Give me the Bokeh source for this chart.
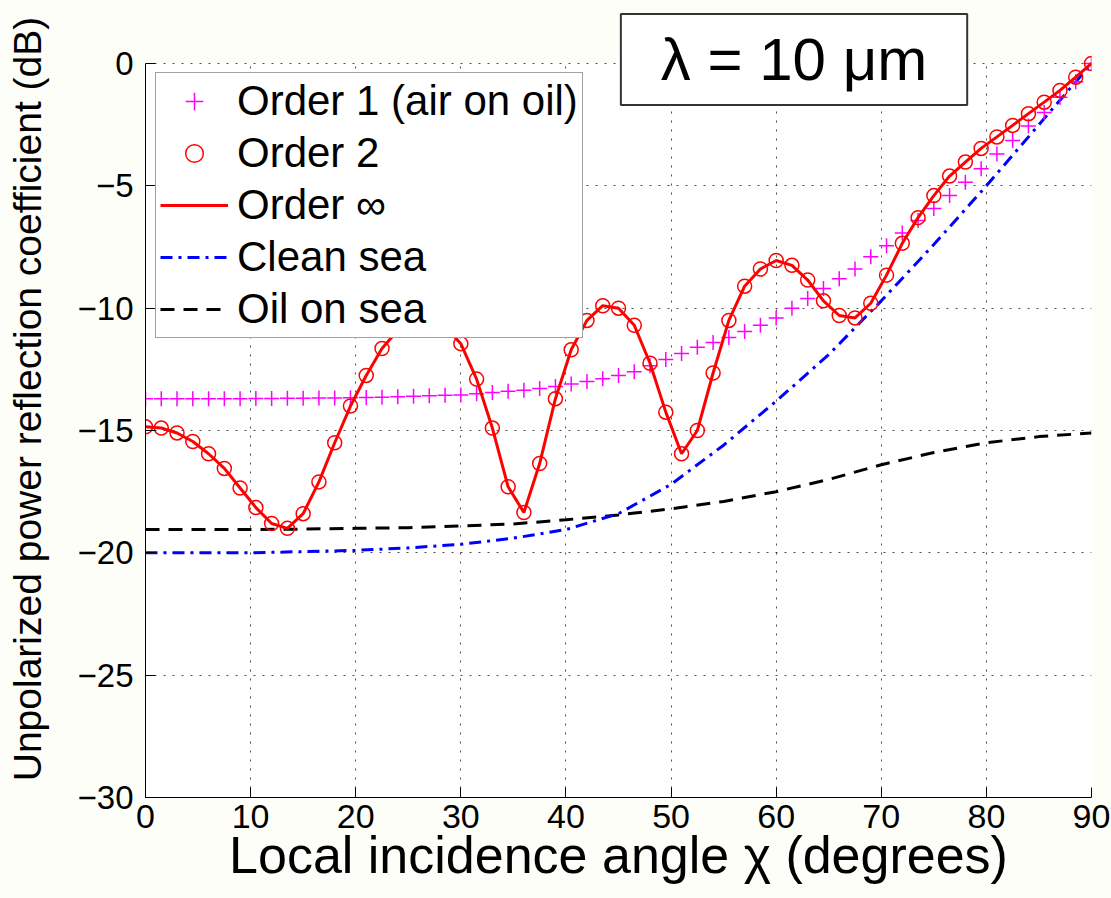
from bokeh.plotting import figure
from bokeh.models import Legend, LegendItem, Label, FixedTicker, Range1d, BoxAnnotation
from bokeh.embed import file_html
from bokeh.resources import INLINE

# ---------------- data ----------------
angle_fine = [0, 1.5, 3, 4.5, 6, 7.5, 9, 10.5, 12, 13.5,
              15, 16.5, 18, 19.5, 21, 22.5, 24, 25.5, 27, 28.5,
              30, 31.5, 33, 34.5, 36, 37.5, 39, 40.5, 42, 43.5,
              45, 46.5, 48, 49.5, 51, 52.5, 54, 55.5, 57, 58.5,
              60, 61.5, 63, 64.5, 66, 67.5, 69, 70.5, 72, 73.5,
              75, 76.5, 78, 79.5, 81, 82.5, 84, 85.5, 87, 88.5, 90]

order1_db = [-13.7, -13.7, -13.7, -13.7, -13.7, -13.7, -13.7, -13.69, -13.69, -13.68,
             -13.68, -13.67, -13.67, -13.66, -13.65, -13.64, -13.62, -13.6, -13.58, -13.56,
             -13.55, -13.5, -13.45, -13.4, -13.35, -13.28, -13.2, -13.1, -13.0, -12.88,
             -12.75, -12.6, -12.35, -12.1, -11.85, -11.6, -11.4, -11.2, -10.95, -10.7,
             -10.4, -10.0, -9.6, -9.2, -8.8, -8.4, -7.9, -7.45, -6.93, -6.42,
             -5.93, -5.39, -4.85, -4.3, -3.7, -3.15, -2.55, -2.0, -1.38, -0.75, 0.0]

order2_db = [-14.85, -14.9, -15.1, -15.45, -15.95, -16.55, -17.35, -18.15, -18.8, -19.0,
             -18.4, -17.1, -15.5, -14.0, -12.75, -11.65, -10.9, -10.45, -10.4, -10.75,
             -11.45, -12.9, -14.9, -17.3, -18.35, -16.35, -13.7, -11.7, -10.5, -9.9,
             -10.0, -10.7, -12.25, -14.25, -15.95, -15.0, -12.65, -10.5, -9.1, -8.4,
             -8.05, -8.25, -8.85, -9.7, -10.3, -10.4, -9.8, -8.65, -7.35, -6.3,
             -5.4, -4.6, -4.03, -3.47, -3.0, -2.53, -2.05, -1.58, -1.1, -0.56, 0.0]

angle_coarse = [0, 5, 10, 15, 20, 25, 30, 35, 40, 45, 50, 55, 60, 65, 70, 75, 80, 85, 90]
clean_sea_db = [-20.0, -20.0, -20.0, -19.95, -19.9, -19.8, -19.65, -19.4, -19.05, -18.4,
                -17.2, -15.6, -13.8, -11.9, -9.7, -7.4, -5.0, -2.5, 0.0]
oil_on_sea_db = [-19.05, -19.05, -19.05, -19.03, -19.0, -18.97, -18.9, -18.82, -18.65, -18.45,
                 -18.2, -17.9, -17.5, -17.0, -16.4, -15.9, -15.5, -15.25, -15.1]

x_ticks = [0, 10, 20, 30, 40, 50, 60, 70, 80, 90]
y_ticks = [-30, -25, -20, -15, -10, -5, 0]
y_tick_labels = ["\u221230", "\u221225", "\u221220", "\u221215", "\u221210", "\u22125", "0"]

series_names = ["Order 1 (air on oil)", "Order 2", "Order \u221e", "Clean sea", "Oil on sea"]
x_label = "Local incidence angle \u03c7 (degrees)"
y_label = "Unpolarized power reflection coefficient (dB)"
box_text = "\u03bb = 10 \u03bcm"

FONT = "Liberation Sans"
BG = "#fefef8"

# axis limits of the data area; the frame is extended upwards so the
# wavelength box can sit above the top of the axes
X_MIN, X_MAX = 0, 90
Y_MIN, Y_MAX = -30, 0
Y_FRAME_TOP = 2.575

# ---------------- figure ----------------
p = figure(width=1111, height=898, output_backend="svg", toolbar_location=None,
           x_range=Range1d(X_MIN, X_MAX), y_range=Range1d(Y_MIN, Y_FRAME_TOP),
           min_border_left=145, min_border_right=20, min_border_top=0, min_border_bottom=101,
           background_fill_color="white", border_fill_color=BG)
p.outline_line_color = None

# axes
p.xaxis.ticker = FixedTicker(ticks=x_ticks)
p.yaxis.ticker = FixedTicker(ticks=y_ticks)
p.yaxis.bounds = (Y_MIN, Y_MAX)
p.yaxis.major_label_overrides = {t: s for t, s in zip(y_ticks, y_tick_labels)}
for ax in (p.xaxis, p.yaxis):
    ax.axis_line_color = "black"
    ax.axis_line_width = 1
    ax.major_tick_in = 10
    ax.major_tick_out = 0
    ax.major_tick_line_color = "black"
    ax.minor_tick_line_color = None
    ax.major_label_text_font = FONT
    ax.major_label_text_color = "black"
    ax.axis_label_text_font = FONT
    ax.axis_label_text_font_style = "normal"
    ax.axis_label_text_color = "black"

p.xaxis.major_label_text_font_size = "34px"
p.yaxis.major_label_text_font_size = "33px"
p.xaxis.major_label_standoff = 7
p.yaxis.major_label_standoff = 12
p.xaxis.axis_label = x_label
p.yaxis.axis_label = y_label
p.xaxis.axis_label_text_font_size = "52px"
p.yaxis.axis_label_text_font_size = "39px"
p.xaxis.axis_label_standoff = -5
p.yaxis.axis_label_standoff = 26

# grid
p.grid.grid_line_color = "#222222"
p.grid.grid_line_dash = "2 7"
p.grid.grid_line_width = 1
p.grid.grid_line_alpha = 0.8

# mask above the top of the axes (hides grid lines there, under the data)
mask = BoxAnnotation(left=X_MIN, right=X_MAX, bottom=Y_MAX + 0.03, top=Y_FRAME_TOP,
                     fill_color=BG, fill_alpha=1, line_color=None, level="underlay")
p.add_layout(mask)

# ---------------- series ----------------
r_oil = p.line(angle_coarse, oil_on_sea_db, line_color="black", line_width=3, line_dash="14 9")
r_clean = p.line(angle_coarse, clean_sea_db, line_color="#0000ff", line_width=3, line_dash="12 6 3 6")
r_o1 = p.scatter(angle_fine, order1_db, marker="cross", size=15, line_color="#ff00ff", line_width=1.5)
r_inf = p.line(angle_fine, order2_db, line_color="#ff0000", line_width=3)
r_o2 = p.scatter(angle_fine, order2_db, marker="circle", size=14, fill_color=None,
                 line_color="#ff0000", line_width=1.5)

legend = Legend(items=[
    LegendItem(label=series_names[0], renderers=[r_o1]),
    LegendItem(label=series_names[1], renderers=[r_o2]),
    LegendItem(label=series_names[2], renderers=[r_inf]),
    LegendItem(label=series_names[3], renderers=[r_clean]),
    LegendItem(label=series_names[4], renderers=[r_oil]),
], location=(10, 459))
legend.border_line_color = "#444444"
legend.border_line_width = 1.5
legend.background_fill_color = "white"
legend.background_fill_alpha = 1
legend.label_text_font = FONT
legend.label_text_font_size = "42px"
legend.label_text_color = "black"
legend.glyph_width = 68
legend.glyph_height = 44
legend.label_height = 44
legend.label_standoff = 9
legend.spacing = 4
legend.padding = 4
legend.margin = 0
p.add_layout(legend, "center")

lab = Label(x=61.7, y=0.163, text=box_text, text_font=FONT, text_font_size="60px",
            text_align="center", text_baseline="middle", text_color="black",
            border_line_color="#333333", border_line_width=2,
            background_fill_color="white", background_fill_alpha=1,
            padding=(40, 12))
p.add_layout(lab)

open("out.html", "w").write(file_html(p, INLINE))
